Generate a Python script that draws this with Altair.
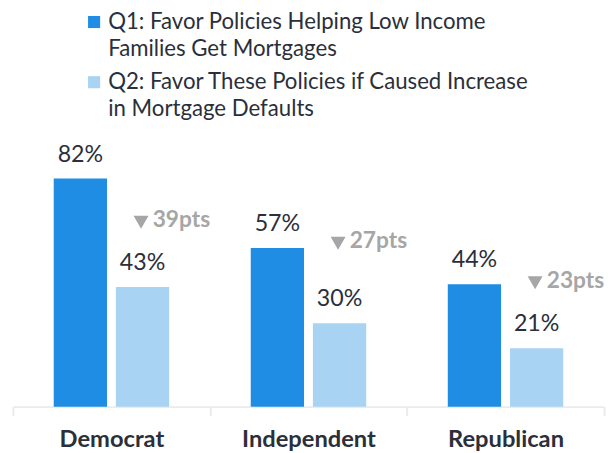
import altair as alt
import pandas as pd

parties = ["Democrat", "Independent", "Republican"]
q1 = [82, 57, 44]
q2 = [43, 30, 21]
deltas = [39, 27, 23]
delta_label_at = [67.0, 59.4, 45.2]
series = ["Q1: Favor Policies Helping Low Income|Families Get Mortgages",
          "Q2: Favor These Policies if Caused Increase|in Mortgage Defaults"]
colors = ["#1e8de3", "#a8d3f3"]

rows = []
for p, a, b in zip(parties, q1, q2):
    rows.append({"party": p, "series": series[0], "value": a, "label": f"{a}%"})
    rows.append({"party": p, "series": series[1], "value": b, "label": f"{b}%"})
df = pd.DataFrame(rows)
ddf = pd.DataFrame({"party": parties, "pos": delta_label_at,
                    "txt": [f"{d}pts" for d in deltas]})

FONT = "Lato"
x = alt.X("party:N", sort=parties, title=None,
          scale=alt.Scale(paddingInner=0, paddingOuter=0),
          axis=alt.Axis(labelAngle=0, labelFont=FONT, labelFontSize=24,
                        labelFontWeight="bold", labelColor="#2b2f3a",
                        labelLineHeight=24,
                        labelPadding=12, domainColor="#ebebeb", domainWidth=2,
                        tickColor="#ebebeb", tickWidth=2, tickSize=9,
                        tickBand="extent", grid=False))
y = alt.Y("value:Q", scale=alt.Scale(domain=[0, 100]), axis=None)
xo = alt.XOffset("series:N", sort=series,
                 scale=alt.Scale(paddingInner=0.143, paddingOuter=0.656))

base = alt.Chart(df)
bars = base.mark_bar().encode(
    x=x, y=y, xOffset=xo,
    color=alt.Color("series:N", sort=series,
                    scale=alt.Scale(domain=series, range=colors),
                    legend=alt.Legend(title=None, orient="none",
                                      legendX=68, legendY=-119,
                                      symbolType="square", symbolSize=150,
                                      symbolOffset=3,
                                      symbolStrokeWidth=0, symbolOpacity=1,
                                      labelFont=FONT, labelFontSize=22.5,
                                      labelColor="#2b2f3a", labelLimit=600,
                                      labelExpr="split(datum.label, '|')",
                                      labelOffset=3, rowPadding=11)),
)
labels = base.mark_text(font=FONT, fontSize=23.5, color="#2b2f3a",
                        baseline="bottom", dy=-12).encode(
    x=x, y=y, xOffset=xo, text="label:N")
dchart = alt.Chart(ddf)
dl = dchart.mark_text(font=FONT, fontSize=23, fontWeight="bold",
                      color="#a6a6a6", align="right",
                      baseline="middle", dx=100).encode(
    x=alt.X("party:N", sort=parties), y=alt.Y("pos:Q"), text="txt:N")
tri = dchart.mark_point(shape="triangle-down", filled=True, size=230,
                        color="#a6a6a6", opacity=1, xOffset=30, yOffset=2).encode(
    x=alt.X("party:N", sort=parties), y=alt.Y("pos:Q"))

chart = alt.layer(bars, labels, dl, tri).properties(
    width=599, height=282,
    autosize=alt.AutoSizeParams(type="none"),
    padding={"left": 5, "top": 119, "right": 2, "bottom": 43},
).configure(font=FONT, style={"guide-label": {"lineHeight": 27}}
).configure_view(stroke=None)

chart.save("out.html", embed_options={"renderer": "svg", "actions": False})
